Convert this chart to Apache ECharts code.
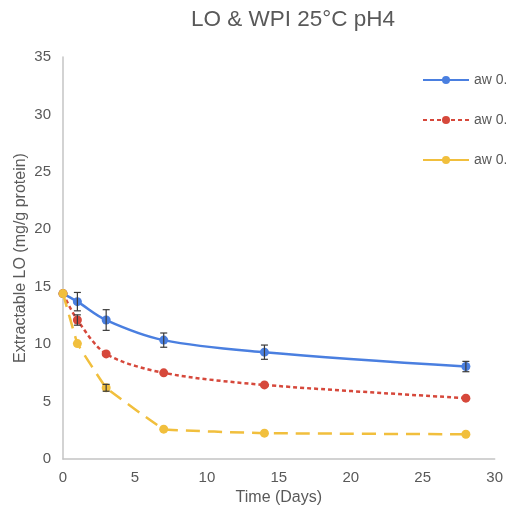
<!DOCTYPE html>
<html>
<head>
<meta charset="utf-8">
<script src="https://cdn.jsdelivr.net/npm/echarts@6/dist/echarts.min.js"></script>
<style>
  html, body { margin: 0; padding: 0; background: #fff; }
  #main { width: 506px; height: 514px; }
</style>
</head>
<body>
<div id="main"></div>
<script>
// time points (days)
var days = [0, 1, 3, 7, 14, 28];

// legend labels (cut off in the original)
var names = ['aw 0.', 'aw 0. ', 'aw 0.  '];

// extractable LO values, mg/g protein
var blueVals = [14.4, 13.7, 12.1, 10.35, 9.3, 8.05];
var redVals = [14.4, 12.1, 9.15, 7.5, 6.45, 5.3];
var yellowVals = [14.4, 10.05, 6.2, 2.6, 2.25, 2.15];

// error bar half widths
var blueErr = [0, 0.8, 0.9, 0.62, 0.62, 0.45];
var redErr = [0, 0.45, 0, 0, 0, 0];
var yellowErr = [0, 0, 0.3, 0, 0, 0];

var colors = ['#4a7fe0', '#d6483b', '#f1bf3d'];

function pairs(vals) {
    var out = [];
    for (var i = 0; i < days.length; i++) out.push([days[i], vals[i]]);
    return out;
}

function errData(vals, errs) {
    var out = [];
    for (var i = 0; i < days.length; i++) {
        if (errs[i] > 0) out.push([days[i], vals[i] - errs[i], vals[i] + errs[i]]);
    }
    return out;
}

function renderErr(params, api) {
    var x = api.value(0);
    var lo = api.coord([x, api.value(1)]);
    var hi = api.coord([x, api.value(2)]);
    var w = 3.5;
    var st = { stroke: '#3a3a3a', lineWidth: 1.2 };
    return {
        type: 'group',
        children: [
            { type: 'line', shape: { x1: hi[0], y1: hi[1], x2: lo[0], y2: lo[1] }, style: st },
            { type: 'line', shape: { x1: hi[0] - w, y1: hi[1], x2: hi[0] + w, y2: hi[1] }, style: st },
            { type: 'line', shape: { x1: lo[0] - w, y1: lo[1], x2: lo[0] + w, y2: lo[1] }, style: st }
        ]
    };
}

var font = 'Liberation Sans';
var chart = echarts.init(document.getElementById('main'));
var opt = {
    animation: false,
    title: {
        text: 'LO & WPI 25°C pH4',
        left: 288,
        textAlign: 'center',
        top: 3,
        textStyle: { fontFamily: font, fontSize: 22.5, fontWeight: 'normal', color: '#595959' }
    },
    legend: {
        orient: 'vertical',
        left: 417,
        top: 68,
        itemWidth: 46,
        itemHeight: 10,
        itemGap: 26,
        data: [
            { name: names[0] },
            { name: names[1] },
            { name: names[2], lineStyle: { type: 'solid' } }
        ],
        textStyle: { fontFamily: font, fontSize: 14, color: '#595959' }
    },
    grid: { left: 63, right: 10, top: 57, bottom: 55, containLabel: false },
    xAxis: {
        type: 'value',
        min: 0,
        max: 30,
        interval: 5,
        name: 'Time (Days)',
        nameLocation: 'middle',
        nameGap: 31,
        nameTextStyle: { fontFamily: font, fontSize: 16, color: '#595959' },
        axisLine: { lineStyle: { color: '#c4c4c4', width: 1.5 } },
        axisTick: { show: false },
        splitLine: { show: false },
        axisLabel: { fontFamily: font, fontSize: 15, color: '#595959', margin: 11 }
    },
    yAxis: {
        type: 'value',
        min: 0,
        max: 35,
        interval: 5,
        name: 'Extractable LO (mg/g protein)',
        nameLocation: 'middle',
        nameGap: 34,
        nameMoveOverlap: false,
        nameTextStyle: { fontFamily: font, fontSize: 16, color: '#595959' },
        axisLine: { show: true, lineStyle: { color: '#c4c4c4', width: 1.5 } },
        axisTick: { show: false },
        splitLine: { show: false },
        axisLabel: { fontFamily: font, fontSize: 15, color: '#595959', margin: 12 }
    },
    series: [
        {
            name: names[0], type: 'line', data: pairs(blueVals), smooth: 0.35,
            symbol: 'circle', symbolSize: 9, color: colors[0],
            lineStyle: { width: 2.5, type: 'solid' }, z: 3
        },
        {
            name: names[1], type: 'line', data: pairs(redVals), smooth: 0.3,
            symbol: 'circle', symbolSize: 9, color: colors[1],
            lineStyle: { width: 2.5, type: [4, 3] }, z: 3
        },
        {
            name: names[2], type: 'line', data: pairs(yellowVals), smooth: 0.05,
            symbol: 'circle', symbolSize: 9, color: colors[2],
            lineStyle: { width: 2.5, type: [14, 8] }, z: 4
        },
        { type: 'custom', renderItem: renderErr, data: errData(blueVals, blueErr), z: 5 },
        { type: 'custom', renderItem: renderErr, data: errData(redVals, redErr), z: 5 },
        { type: 'custom', renderItem: renderErr, data: errData(yellowVals, yellowErr), z: 5 }
    ]
};
chart.setOption(opt);
</script>
</body>
</html>
